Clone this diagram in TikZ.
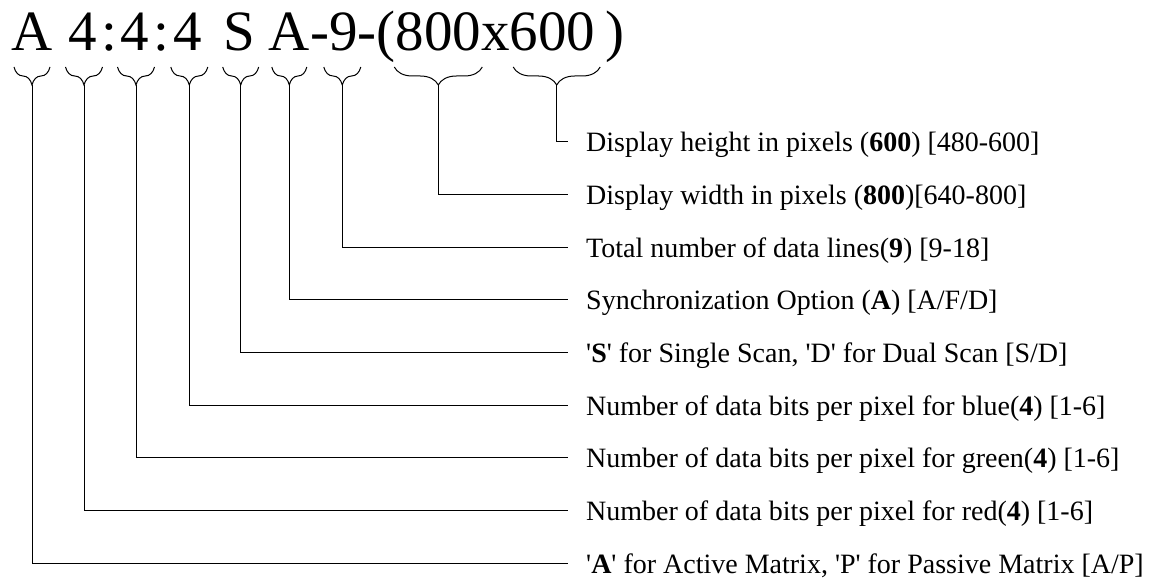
\documentclass[tikz,border=0pt]{standalone}
\usepackage{fontspec}
\setmainfont{Liberation Serif}
\usepackage{tikz}
\usetikzlibrary{positioning,decorations.pathreplacing}
\newcommand{\sq}{\textquotesingle}

\begin{document}
\begin{tikzpicture}[
    x=1pt,y=-1pt,
    ttl/.style={anchor=base west,inner sep=0pt,font=\fontsize{57}{60}\selectfont},
    lbl/.style={anchor=west,inner xsep=18pt,inner ysep=0pt,text height=20pt,text depth=0pt,font=\fontsize{28}{32}\selectfont},
    brc/.style={decorate,decoration={brace,mirror,amplitude=18pt},line width=1pt},
    conn/.style={line width=1pt}
  ]
    \useasboundingbox (0,0) rectangle (1161,580);
    \node[ttl] (code) at (11,50.7) {A\kern2pt\ 4\kern4pt:\kern4pt4\kern4pt:\kern4pt4\kern7pt\ S A-9-(800x600\kern10pt)};

    \draw[brc] (14,67) -- (50,67);
    \draw[brc] (65.5,67) -- (102.5,67);
    \draw[brc] (117.5,67) -- (154.5,67);
    \draw[brc] (170.8,67) -- (207.8,67);
    \draw[brc] (222.7,67) -- (258.7,67);
    \draw[brc] (271.8,67) -- (306.8,67);
    \draw[brc] (323.8,67) -- (360.8,67);
    \draw[brc] (394.3,67) -- (482.3,67);
    \draw[brc] (513.2,67) -- (600.2,67);

    \coordinate (tact) at (32,85);
    \coordinate (tred) at (84,85);
    \coordinate (tgreen) at (136,85);
    \coordinate (tblue) at (189.3,85);
    \coordinate (tscan) at (240.7,85);
    \coordinate (tsync) at (289.3,85);
    \coordinate (tlines) at (342.3,85);
    \coordinate (twidth) at (438.3,85);
    \coordinate (theight) at (556.7,85);

    \node[lbl] (height) at (568,141.7) {Display height in pixels (\textbf{600}) [480-600]};
    \node[lbl] (width) at (568,194.4) {Display width in pixels (\textbf{800})[640-800]};
    \node[lbl] (lines) at (568,247.1) {Total number of data lines(\textbf{9}) [9-18]};
    \node[lbl] (sync) at (568,299.8) {Synchronization Option (\textbf{A}) [A/F/D]};
    \node[lbl] (scan) at (568,352.5) {\sq\textbf{S}\sq{} for Single Scan, \sq D\sq{} for Dual Scan [S/D]};
    \node[lbl] (blue) at (568,405.2) {Number of data bits per pixel for blue(\textbf{4}) [1-6]};
    \node[lbl] (green) at (568,457.9) {Number of data bits per pixel for green(\textbf{4}) [1-6]};
    \node[lbl] (red) at (568,510.6) {Number of data bits per pixel for red(\textbf{4}) [1-6]};
    \node[lbl] (act) at (568,563.3) {\sq\textbf{A}\sq{} for Active Matrix, \sq P\sq{} for Passive Matrix [A/P]};

    \draw[conn] (theight) |- (height.west);
    \draw[conn] (twidth) |- (width.west);
    \draw[conn] (tlines) |- (lines.west);
    \draw[conn] (tsync) |- (sync.west);
    \draw[conn] (tscan) |- (scan.west);
    \draw[conn] (tblue) |- (blue.west);
    \draw[conn] (tgreen) |- (green.west);
    \draw[conn] (tred) |- (red.west);
    \draw[conn] (tact) |- (act.west);
  \end{tikzpicture}
\end{document}
